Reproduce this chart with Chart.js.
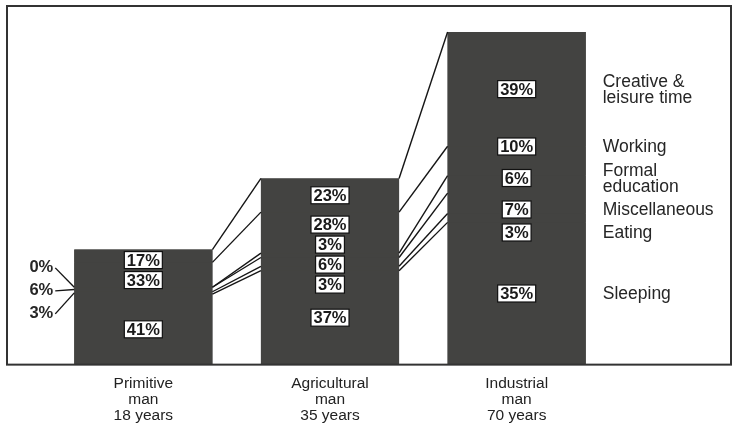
<!DOCTYPE html>
<html>
<head>
<meta charset="utf-8">
<title>How a lifetime is spent</title>
<script src="https://cdn.jsdelivr.net/npm/chart.js@4.4.1/dist/chart.umd.min.js"></script>
<style>
    html, body { margin: 0; padding: 0; background: #fff; }
    #lifeChart { display: block; background: #fff; }
</style>
</head>
<body>
<canvas id="lifeChart" width="734" height="432"></canvas>
<script>
const eras = ["Primitive", "Agricultural", "Industrial"];
const lifeYears = [18, 35, 70];

// share of a lifetime per activity, one value per era (%), bottom of the bar first
const sleeping = [41, 37, 35];
const eating = [3, 3, 3];
const miscellaneous = [6, 6, 7];
const formalEducation = [0, 3, 6];
const working = [33, 28, 10];
const leisure = [17, 23, 39];

const activityNames = [
    ["Sleeping"],
    ["Eating"],
    ["Miscellaneous"],
    ["Formal", "education"],
    ["Working"],
    ["Creative &", "leisure time"]
];

const shares = [sleeping, eating, miscellaneous, formalEducation, working, leisure];

const FONT = "'Liberation Sans', Arial, Helvetica, sans-serif";
const BAR_COLOR = "#434341";
const INK = "#262626";
// the drawing is not to scale: bars start a few "years" below zero
const BASE_OFFSET = 9.5;

function relax(items, lo, hi, gap) {
    items.sort((a, b) => a.y - b.y);
    for (let it = 0; it < 200; it++) {
        for (let i = 1; i < items.length; i++) {
            const a = items[i - 1], b = items[i];
            const need = (a.h + b.h) / 2 + gap;
            const overlap = need - (b.y - a.y);
            if (overlap > 0) {
                a.y -= overlap / 2;
                b.y += overlap / 2;
            }
        }
        items.forEach(o => {
            o.y = Math.min(hi - o.h / 2, Math.max(lo + o.h / 2, o.y));
        });
    }
    return items;
}

function boxLabel(ctx, text, x, y) {
    const w = ctx.measureText(text).width + 5;
    const h = 17;
    ctx.fillStyle = "#fff";
    ctx.fillRect(x - w / 2, y - h / 2, w, h);
    ctx.strokeStyle = "#111";
    ctx.lineWidth = 1.2;
    ctx.strokeRect(x - w / 2, y - h / 2, w, h);
    ctx.fillStyle = "#1a1a1a";
    ctx.fillText(text, x, y + 1);
}

function segmentsOf(chart, j) {
    return chart.data.datasets.map((ds, d) => {
        const el = chart.getDatasetMeta(d).data[j];
        const p = el.getProps(["x", "y", "base", "width"], true);
        return {
            d: d,
            share: shares[d][j],
            top: p.y,
            bottom: p.base,
            left: p.x - p.width / 2,
            right: p.x + p.width / 2
        };
    });
}

const annotate = {
    id: "annotate",
    beforeDatasetsDraw(chart) {
        // one solid block under each stack so no seams show between segments
        const ctx = chart.ctx;
        ctx.save();
        ctx.fillStyle = BAR_COLOR;
        eras.forEach((e, j) => {
            const segs = segmentsOf(chart, j);
            const top = Math.min(...segs.map(s => s.top));
            const bottom = Math.max(...segs.map(s => s.bottom));
            ctx.fillRect(segs[0].left, top, segs[0].right - segs[0].left, bottom - top);
        });
        ctx.restore();
    },
    afterDatasetsDraw(chart) {
        const ctx = chart.ctx;
        const bars = eras.map((e, j) => segmentsOf(chart, j));
        const last = bars.length - 1;

        ctx.save();

        // connectors between matching boundaries of neighbouring bars
        ctx.strokeStyle = "#151515";
        ctx.lineWidth = 1.4;
        for (let j = 0; j < last; j++) {
            bars[j].forEach((s, d) => {
                const n = bars[j + 1][d];
                ctx.beginPath();
                ctx.moveTo(s.right, s.top);
                ctx.lineTo(n.left, n.top);
                ctx.stroke();
            });
        }

        const pctFont = `bold 16.5px ${FONT}`;
        ctx.font = pctFont;
        ctx.textAlign = "center";
        ctx.textBaseline = "middle";

        bars.forEach((segs, j) => {
            const barTop = Math.min(...segs.map(s => s.top));
            const barBottom = Math.max(...segs.map(s => s.bottom));
            const inside = [];
            const outside = [];

            segs.forEach(s => {
                const item = { s: s, y: (s.top + s.bottom) / 2, h: 17 };
                if (j === last) item.h = Math.max(17, activityNames[s.d].length * 17);
                if (j === 0 && s.share < 10) {
                    item.h = 20;
                    outside.push(item);
                } else {
                    inside.push(item);
                }
            });

            relax(inside, barTop + 2, barBottom - 2, j === last ? 6 : 3);
            relax(outside, -Infinity, Infinity, 3);

            inside.forEach(o => {
                const cx = (o.s.left + o.s.right) / 2;
                boxLabel(ctx, `${o.s.share}%`, cx, o.y);
            });

            // thin segments of the first bar are named to its left
            outside.forEach(o => {
                const textRight = o.s.left - 21;
                ctx.textAlign = "right";
                ctx.fillStyle = INK;
                ctx.fillText(`${o.s.share}%`, textRight, o.y + 1);
                ctx.strokeStyle = "#151515";
                ctx.lineWidth = 1.4;
                ctx.beginPath();
                ctx.moveTo(textRight + 2, o.y + 1);
                ctx.lineTo(o.s.left, (o.s.top + o.s.bottom) / 2);
                ctx.stroke();
                ctx.textAlign = "center";
            });

            // activity names beside the last bar, level with its labels
            if (j === last) {
                ctx.font = `17.5px ${FONT}`;
                ctx.textAlign = "left";
                ctx.fillStyle = INK;
                inside.forEach(o => {
                    const lines = activityNames[o.s.d];
                    lines.forEach((line, k) => {
                        const ly = o.y + (k - (lines.length - 1) / 2) * 16.5;
                        ctx.fillText(line, o.s.right + 17, ly + 1);
                    });
                });
                ctx.font = pctFont;
                ctx.textAlign = "center";
            }
        });

        ctx.restore();
    },
    afterDraw(chart) {
        const ctx = chart.ctx;
        const area = chart.chartArea;
        ctx.save();
        ctx.strokeStyle = "#333";
        ctx.lineWidth = 2;
        ctx.strokeRect(7, 6, chart.width - 10, area.bottom - 6);
        ctx.restore();
    }
};

const datasets = shares.map((pct, i) => {
    const ds = {
        label: activityNames[i].join(" "),
        data: pct.map((p, j) => p * lifeYears[j] / 100),
        backgroundColor: BAR_COLOR,
        borderWidth: 0,
        barPercentage: 0.74,
        categoryPercentage: 1
    };
    if (i === 0) ds.base = -BASE_OFFSET;
    return ds;
});

new Chart(document.getElementById("lifeChart"), {
    type: "bar",
    data: {
        labels: eras.map((e, j) => [e, "man", `${lifeYears[j]} years`]),
        datasets: datasets
    },
    options: {
        responsive: false,
        animation: false,
        layout: {
            padding: { left: 50, right: 124, top: 32, bottom: -3 }
        },
        plugins: {
            legend: { display: false },
            tooltip: { enabled: false }
        },
        scales: {
            x: {
                stacked: true,
                grid: { display: false, drawTicks: false },
                border: { display: false },
                ticks: {
                    color: "#222",
                    padding: 11,
                    font: { family: FONT, size: 15.5, lineHeight: 1.04 }
                }
            },
            y: {
                stacked: true,
                display: false,
                min: -BASE_OFFSET,
                max: Math.max(...lifeYears)
            }
        }
    },
    plugins: [annotate]
});
</script>
</body>
</html>
